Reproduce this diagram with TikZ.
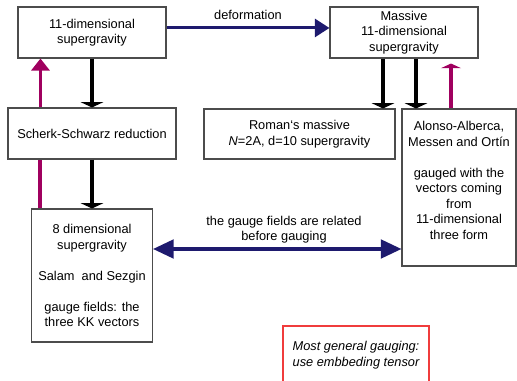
\documentclass[tikz,border=0pt]{standalone}
\usepackage{fontspec}
\setmainfont{Liberation Sans}
\usetikzlibrary{positioning, arrows.meta, calc}
\definecolor{navy}{RGB}{30,26,110}
\definecolor{plum}{RGB}{160,0,95}
\definecolor{gaugered}{RGB}{240,60,60}

\begin{document}
\begin{tikzpicture}[x=0.75pt, y=-0.75pt,
        sgbox/.style={draw=black!70, line width=0.8pt, align=center, inner sep=0pt, fill=white},
        blackarr/.style={line width=2.6pt, -{Triangle[width=17pt, length=4pt]}},
        plumarr/.style={draw=plum, line width=2.3pt, -{Triangle[width=13.5pt, length=9pt]}},
        navyarr/.style={draw=navy, line width=2.3pt, -{Triangle[width=13.5pt, length=11pt]}}]
    \useasboundingbox (0,0) rectangle (517,381);
    \fontsize{9.6}{11.6}\selectfont
    % boxes
    \node[sgbox, minimum width=111pt, minimum height=38.25pt] (A) at (92,32.5) {11-dimensional\\supergravity};
    \node[sgbox, minimum width=111pt, minimum height=38.25pt] (B) at (404,32.5) {Massive\\11-dimensional\\supergravity};
    \node[sgbox, minimum width=126pt, minimum height=38.25pt] (C) at (92,133.5) {Scherk-Schwarz reduction};
    \node[sgbox, minimum width=143.25pt, minimum height=37.5pt] (D) at (299.5,134) {Roman`s massive\\{\itshape N}=2A, d=10 supergravity};
    \node[sgbox, minimum width=85.5pt, minimum height=117.75pt] (E) at (459,187.5) {};
    \node[align=center, inner sep=0pt] (Etext) at (459,180.5) {Alonso-Alberca,\\Messen and Ortín\\[11.6pt]gauged with the\\vectors coming\\from\\11-dimensional\\three form};
    \node[sgbox, minimum width=90.75pt, minimum height=99.75pt] (F) at (92,275.5) {8 dimensional\\supergravity\\[11.6pt]Salam\ \ and Sezgin\\[11.6pt]gauge fields: the\\three KK vectors};
    \node[draw=gaugered, line width=0.8pt, align=center, inner sep=0pt, minimum width=109.5pt, minimum height=43.5pt, font=\itshape] (G) at (356,355) {Most general gauging:\\use embbeding tensor};
    % helper points
    \coordinate (pkC) at ($(C.north west)+(33,0)$);
    \coordinate (pkF) at ($(F.north west)+(9,0)$);
    \coordinate (bD) at ($(B.south)+(-21,0)$);
    \coordinate (bE) at ($(B.south)+(12,0)$);
    \coordinate (pkE) at ($(E.north)+(-8,0)$);
    \coordinate (ga) at ($(F.east)+(0,-26.5)$);
    % connectors
    \draw[navyarr] ([yshift=3.4pt]A.east) -- node[above=5pt, inner sep=0pt] (deflabel) {deformation} ([yshift=3.4pt]B.west);
    \draw[blackarr] (A.south) -- (C.north);
    \draw[blackarr] (C.south) -- (F.north);
    \draw[plumarr] (pkC) -- (pkC |- A.south);
    \draw[draw=plum, line width=2.3pt] (pkF) -- (pkF |- C.south);
    \draw[blackarr] (bD) -- (bD |- D.north);
    \draw[blackarr] (bE) -- (bE |- E.north);
    \draw[draw=plum, line width=2.3pt, -{Triangle[width=15pt, length=3.5pt]}] (pkE) -- ($(pkE |- B.south)+(0,5)$);
    \draw[draw=navy, line width=2.3pt, {Triangle[width=14pt, length=15.5pt]}-{Triangle[width=14pt, length=15.5pt]}] (ga) -- (ga -| E.west);
    \node[align=center, inner sep=0pt] (gaugelabel) at (284,229.5) {the gauge fields are related\\before gauging};
\end{tikzpicture}
\end{document}
